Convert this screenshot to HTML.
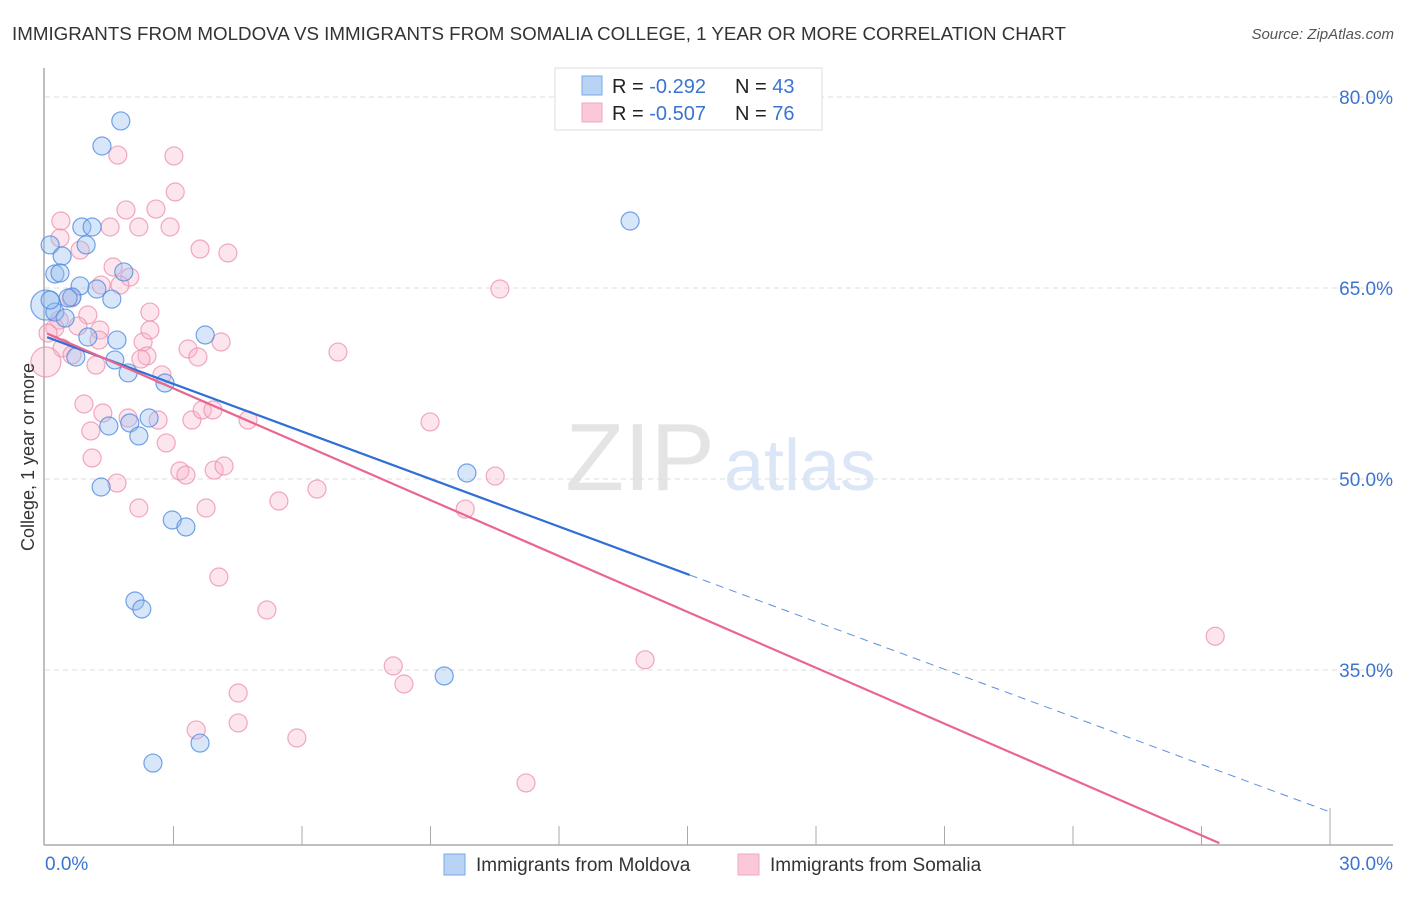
<!DOCTYPE html>
<html><head><meta charset="utf-8"><style>
body{margin:0;background:#fff;font-family:"Liberation Sans",sans-serif}
svg text{font-family:"Liberation Sans",sans-serif}
</style></head><body>
<svg id="c" width="1406" height="892">
<text x="12" y="40" font-size="18.75" fill="#333">IMMIGRANTS FROM MOLDOVA VS IMMIGRANTS FROM SOMALIA COLLEGE, 1 YEAR OR MORE CORRELATION CHART</text>
<text x="1394" y="39" font-size="15" fill="#555" font-style="italic" text-anchor="end">Source: ZipAtlas.com</text>
<text x="640" y="490" font-size="96" fill="#e4e4e4" font-family="Liberation Serif" text-anchor="middle">ZIP</text>
<text x="800" y="490" font-size="72" fill="#dbe6f6" text-anchor="middle">atlas</text>
<g id="grid"></g><g id="axes"></g><g id="pts"></g><g id="lines"></g>
<text transform="translate(34,457) rotate(-90)" font-size="18" fill="#333" text-anchor="middle">College, 1 year or more</text>
<g>
<rect x="555" y="68" width="267" height="62" fill="#fff" stroke="#ddd"/>
<rect x="582" y="76" width="20" height="19" fill="#b8d3f4" stroke="#7aaae8"/>
<rect x="582" y="103" width="20" height="19" fill="#fac8d8" stroke="#f2a8c0"/>
<text x="612" y="93" font-size="20" fill="#222">R = <tspan fill="#3b74d0"> -0.292</tspan></text>
<text x="735" y="93" font-size="20" fill="#222">N = <tspan fill="#3b74d0">43</tspan></text>
<text x="612" y="120" font-size="20" fill="#222">R = <tspan fill="#3b74d0">-0.507</tspan></text>
<text x="735" y="120" font-size="20" fill="#222">N = <tspan fill="#3b74d0"> 76</tspan></text>
</g>
<g>
<rect x="444" y="854" width="21" height="21" fill="#b8d3f4" stroke="#7aaae8"/>
<text x="476" y="871" font-size="19" fill="#333">Immigrants from Moldova</text>
<rect x="738" y="854" width="21" height="21" fill="#fac8d8" stroke="#f2a8c0"/>
<text x="770" y="871" font-size="19" fill="#333">Immigrants from Somalia</text>
</g>
</svg>
<script>
const yTicks=[80,65,50,35];
const xTickLabels=["0.0%","30.0%"];
const moldovaX=[1.77,1.33,0.12,0.40,0.86,1.10,0.96,0.23,0.35,0.82,1.21,0.63,0.54,1.56,1.84,0.02,0.23,0.47,1.00,1.68,3.74,0.72,1.63,1.94,2.80,2.43,1.98,1.49,2.19,1.31,2.97,3.29,2.10,2.26,9.85,13.66,9.32,3.62,2.52,0.12];
const moldovaY=[78.12,76.15,68.38,67.51,69.79,69.79,68.38,66.10,66.18,65.16,64.92,64.29,64.21,64.13,66.26,63.66,63.11,62.64,61.15,60.91,61.31,59.58,59.35,58.33,57.54,54.79,54.40,54.16,53.38,49.37,46.78,46.23,40.42,39.79,50.47,70.26,34.53,29.26,27.69,64.06];
const somaliaX=[1.70,3.01,3.04,0.37,1.89,2.59,2.92,2.19,1.52,0.82,3.62,4.27,1.59,1.98,1.75,1.31,0.61,1.00,2.45,0.33,0.23,0.07,1.28,0.77,1.26,2.29,3.34,4.11,0.40,0.63,1.19,2.38,2.24,2.73,3.57,6.84,0.02,0.91,1.35,1.94,2.64,3.43,3.67,3.92,4.74,8.99,1.07,1.10,3.15,3.29,3.95,4.18,1.68,2.19,3.76,5.46,6.35,9.81,10.51,10.62,4.06,5.18,8.13,8.38,4.51,4.51,3.53,5.88,11.23,14.01,27.32,0.35,2.83,2.45];
const somaliaY=[75.44,75.37,72.54,70.26,71.13,71.20,69.79,69.79,69.79,67.98,68.06,67.75,66.65,65.86,65.23,65.23,64.21,62.88,63.11,62.48,61.86,61.46,61.70,62.01,60.91,60.76,60.21,60.76,60.29,59.74,58.95,59.66,59.42,58.17,59.58,59.97,59.19,55.89,55.18,54.79,54.63,54.63,55.42,55.42,54.63,54.48,53.77,51.65,50.63,50.31,50.70,51.02,49.68,47.72,47.72,48.27,49.21,47.64,50.23,64.92,42.30,39.71,35.32,33.90,33.19,30.84,30.29,29.66,26.13,35.80,37.65,68.93,52.83,61.70];
const moldovaTrend=[61.2,-1.245];
const somaliaTrend=[61.5,-1.4626];
const NS="http://www.w3.org/2000/svg";
const X=v=>45+v*1285/30, Y=v=>97+(80-v)*12.733;
function mk(t,a,p){const e=document.createElementNS(NS,t);for(const k in a)e.setAttribute(k,a[k]);document.getElementById(p).appendChild(e);return e;}
yTicks.forEach((t,i)=>{
 const g=mk('line',{x1:45,x2:1393,y1:Y(t),y2:Y(t),stroke:'#ddd','stroke-dasharray':'5,4'},'grid');
 
 
 const l=mk('text',{x:1393,y:Y(t)+7,'font-size':19,fill:'#3b74d0','text-anchor':'end'},'grid');
 l.textContent=t.toFixed(1)+'%';
 
 
});
const ya=mk('line',{x1:44,x2:44,y1:68,y2:845,stroke:'#aaa','stroke-width':1.5},'axes');


const xa=mk('line',{x1:44,x2:1393,y1:845,y2:845,stroke:'#aaa','stroke-width':1.5},'axes');


for(let i=1;i<=10;i++){const t=mk('line',{x1:X(i*3),x2:X(i*3),y1:i==10?808:826,y2:845,stroke:'#aaa'},'axes');
 
 }
[[0,'start',45],[30,'end',1393]].forEach((d,i)=>{const t=mk('text',{x:d[2],y:870,'font-size':19,fill:'#3b74d0','text-anchor':d[1]},'axes');t.textContent=xTickLabels[i];
 
 });
function pts(xs,ys,fill,stroke,name){xs.forEach((x,i)=>{const big=x<0.05;const c=mk('circle',{cx:X(x),cy:Y(ys[i]),r:big?15:9,fill:fill,stroke:stroke,'stroke-width':1.2},'pts');
 
 });}
pts(somaliaX,somaliaY,'rgba(248,180,204,0.35)','rgba(236,140,170,0.75)','somalia-point');
pts(moldovaX,moldovaY,'rgba(150,190,240,0.38)','rgba(80,140,225,0.8)','moldova-point');
const b1=mk('line',{x1:X(0.05),y1:Y(moldovaTrend[0]+moldovaTrend[1]*0.05),x2:X(15.05),y2:Y(moldovaTrend[0]+moldovaTrend[1]*15.05),stroke:'#2f6fd6','stroke-width':2.2},'lines');


const b2=mk('line',{x1:X(15.05),y1:Y(moldovaTrend[0]+moldovaTrend[1]*15.05),x2:X(30),y2:Y(moldovaTrend[0]+moldovaTrend[1]*30),stroke:'#5b8fdc','stroke-width':1,'stroke-dasharray':'8,6'},'lines');


const xe=(21.4-somaliaTrend[0])/somaliaTrend[1];
const p1=mk('line',{x1:X(0.05),y1:Y(somaliaTrend[0]+somaliaTrend[1]*0.05),x2:X(xe),y2:Y(somaliaTrend[0]+somaliaTrend[1]*xe),stroke:'#e8668f','stroke-width':2.2},'lines');


</script>
</body></html>
